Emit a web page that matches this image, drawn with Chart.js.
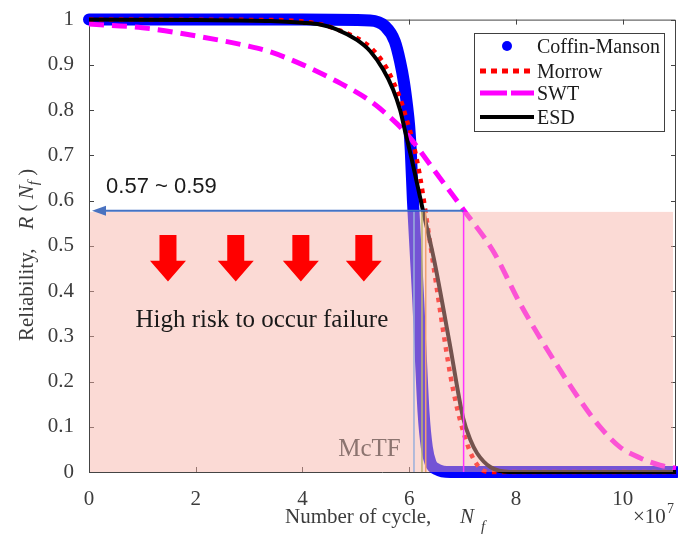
<!DOCTYPE html>
<html>
<head>
<meta charset="utf-8">
<script src="https://cdn.jsdelivr.net/npm/chart.js@4.4.0/dist/chart.umd.min.js"></script>
<style>
html, body { margin: 0; padding: 0; background: #fff; overflow: hidden; }
canvas { display: block; }
</style>
</head>
<body>
<canvas id="relChart" width="678" height="545"></canvas>
<script>
// x in units of 1e7 cycles, y = reliability
var cmX = [0, 2, 4, 5.27, 5.55, 5.73, 5.83, 5.9, 5.96, 6.0, 6.03, 6.07, 6.12, 6.17, 6.22, 6.27, 6.33, 6.4, 6.52, 6.77, 8, 11];
var cmY = [1, 1, 1, 0.998, 0.985, 0.952, 0.907, 0.863, 0.81, 0.765, 0.71, 0.6, 0.49, 0.38, 0.25, 0.13, 0.055, 0.02, 0.006, 0, 0, 0];

var morX = [0, 3.5, 4.33, 4.7, 4.89, 5.21, 5.4, 5.58, 5.7, 5.83, 5.95, 6.07, 6.2, 6.3, 6.4, 6.5, 6.62, 6.77, 6.9, 7.0, 7.14, 7.33, 7.5, 11];
var morY = [1, 0.999, 0.99, 0.976, 0.967, 0.945, 0.923, 0.892, 0.863, 0.826, 0.78, 0.73, 0.655, 0.58, 0.5, 0.42, 0.325, 0.215, 0.14, 0.095, 0.045, 0.008, 0, 0];

var swtX = [0, 1, 2, 3, 3.39, 4.01, 4.65, 5.27, 5.77, 6.02, 6.5, 7.01, 7.57, 8.08, 8.45, 8.83, 9.2, 9.58, 9.95, 10.33, 10.7, 11];
var swtY = [0.99, 0.982, 0.964, 0.941, 0.929, 0.9, 0.863, 0.82, 0.77, 0.738, 0.662, 0.581, 0.489, 0.372, 0.297, 0.225, 0.159, 0.099, 0.055, 0.031, 0.015, 0.008];

var esdX = [0, 2, 3.4, 4.0, 4.33, 4.65, 5.02, 5.27, 5.51, 5.7, 5.83, 5.92, 6.05, 6.26, 6.47, 6.75, 7.01, 7.15, 7.27, 7.52, 7.89, 11];
var esdY = [1, 0.999, 0.997, 0.993, 0.989, 0.978, 0.955, 0.93, 0.89, 0.845, 0.8, 0.755, 0.69, 0.577, 0.467, 0.29, 0.12, 0.07, 0.042, 0.011, 0, 0];

var xTicks = [0, 2, 4, 6, 8, 10];
var yTicks = [0, 0.1, 0.2, 0.3, 0.4, 0.5, 0.6, 0.7, 0.8, 0.9, 1];

// annotation values
var riskLevel = 0.575;
var riskEnd = 7.02;
var crossX = [6.09, 6.24, 6.31];
var arrowX = [1.48, 2.75, 3.97, 5.15];
var arrowTop = 0.524, arrowHead = 0.467, arrowTip = 0.421;

var serif = '"Liberation Serif", "Times New Roman", serif';
var grey = '#3c3c3c';

function pts(xs, ys) {
	return xs.map(function(v, i) { return { x: v, y: ys[i] }; });
}

function drawInTicks(ctx, a, x, y) {
	ctx.strokeStyle = '#444';
	ctx.lineWidth = 1;
	ctx.beginPath();
	ctx.rect(a.left + 0.5, a.top + 0.5, a.right - a.left - 1, a.bottom - a.top);
	for(var v of xTicks) {
		var px = Math.round(x.getPixelForValue(v)) + 0.5;
		ctx.moveTo(px, a.bottom); ctx.lineTo(px, a.bottom - 5);
		ctx.moveTo(px, a.top); ctx.lineTo(px, a.top + 5);
	}
	for(var w of yTicks) {
		var py = Math.round(y.getPixelForValue(w)) + 0.5;
		ctx.moveTo(a.left, py); ctx.lineTo(a.left + 5, py);
		ctx.moveTo(a.right, py); ctx.lineTo(a.right - 5, py);
	}
	ctx.stroke();
}

var frame = {
	id: 'frame',
	beforeDatasetsDraw: function(chart) {
		var ctx = chart.ctx;
		ctx.save();
		drawInTicks(ctx, chart.chartArea, chart.scales.x, chart.scales.y);
		ctx.restore();
	}
};

var annot = {
	id: 'annot',
	afterDatasetsDraw: function(chart) {
		var ctx = chart.ctx, a = chart.chartArea, x = chart.scales.x, y = chart.scales.y;
		var yt = y.getPixelForValue(riskLevel), yb = y.getPixelForValue(0);
		ctx.save();
		// risk zone
		ctx.fillStyle = 'rgba(246,176,165,0.47)';
		ctx.fillRect(a.left + 1, yt, a.right - a.left - 4, yb - yt);

		// crossing lines
		var cols = ['#9ab0dc', '#bdb56e', '#f0a070'];
		ctx.lineWidth = 1.5;
		crossX.forEach(function(v, i) {
			var px = x.getPixelForValue(v);
			ctx.strokeStyle = cols[i];
			ctx.beginPath(); ctx.moveTo(px, yt); ctx.lineTo(px, yb); ctx.stroke();
		});
		var pm = x.getPixelForValue(riskEnd);
		ctx.strokeStyle = '#ff33ff';
		ctx.beginPath(); ctx.moveTo(pm, yt); ctx.lineTo(pm, yb); ctx.stroke();

		// level arrow
		var x0 = x.getPixelForValue(0);
		ctx.strokeStyle = '#4472c4';
		ctx.lineWidth = 2;
		ctx.beginPath(); ctx.moveTo(pm, yt - 1); ctx.lineTo(x0 + 14, yt - 1); ctx.stroke();
		ctx.fillStyle = '#4a72c0';
		ctx.beginPath();
		ctx.moveTo(x0 + 3, yt - 1); ctx.lineTo(x0 + 17, yt - 6); ctx.lineTo(x0 + 17, yt + 4);
		ctx.closePath(); ctx.fill();

		// red arrows
		ctx.fillStyle = '#ff0000';
		var t = y.getPixelForValue(arrowTop), h = y.getPixelForValue(arrowHead), tip = y.getPixelForValue(arrowTip);
		arrowX.forEach(function(v) {
			var c = x.getPixelForValue(v);
			ctx.beginPath();
			ctx.moveTo(c - 8.5, t); ctx.lineTo(c + 8.5, t); ctx.lineTo(c + 8.5, h);
			ctx.lineTo(c + 18, h); ctx.lineTo(c, tip); ctx.lineTo(c - 18, h); ctx.lineTo(c - 8.5, h);
			ctx.closePath(); ctx.fill();
		});

		// texts
		ctx.fillStyle = '#1a1a1a';
		ctx.font = '22px "Liberation Sans", Arial, sans-serif';
		ctx.textBaseline = 'alphabetic';
		ctx.fillText('0.57 ~ 0.59', x.getPixelForValue(0.32), y.getPixelForValue(0.617));
		ctx.font = '25px ' + serif;
		ctx.textAlign = 'center';
		ctx.fillText('High risk to occur failure', x.getPixelForValue(3.24), y.getPixelForValue(0.321));
		ctx.textAlign = 'left';
		ctx.fillStyle = '#8c7470';
		ctx.fillText('McTF', x.getPixelForValue(4.67), y.getPixelForValue(0.035));
		ctx.restore();
	},
	afterDraw: function(chart) {
		var ctx = chart.ctx;
		ctx.save();
		ctx.fillStyle = grey;
		ctx.textBaseline = 'alphabetic';

		// x title
		ctx.font = '21px ' + serif;
		ctx.fillText('Number of cycle,', 285, 523);
		ctx.font = 'italic 21px ' + serif;
		ctx.fillText('N', 460, 523);
		ctx.font = 'italic 15px ' + serif;
		ctx.fillText('f', 481, 531);
		ctx.font = '21px ' + serif;
		ctx.fillText('\u00d710', 633, 523);
		ctx.font = '14px ' + serif;
		ctx.fillText('7', 667, 513);

		// y title
		ctx.translate(33, 341);
		ctx.rotate(-Math.PI / 2);
		ctx.font = '21px ' + serif;
		ctx.fillText('Reliability,', 0, 0);
		var p = ctx.measureText('Reliability,').width + 19;
		ctx.font = 'italic 21px ' + serif;
		ctx.fillText('R', p, 0);
		p += ctx.measureText('R').width;
		ctx.font = '21px ' + serif;
		ctx.fillText(' ( ', p, 0);
		p += ctx.measureText(' ( ').width;
		ctx.font = 'italic 21px ' + serif;
		ctx.fillText('N', p, 0);
		p += ctx.measureText('N').width;
		ctx.font = 'italic 15px ' + serif;
		ctx.fillText('f', p, 5);
		p += ctx.measureText('f').width;
		ctx.font = '21px ' + serif;
		ctx.fillText(' )', p, 0);
		ctx.setTransform(1, 0, 0, 1, 0, 0);

		// legend
		var lx = 474, ly = 33;
		ctx.fillStyle = '#fff';
		ctx.fillRect(lx, ly, 190, 98);
		ctx.strokeStyle = '#404040';
		ctx.lineWidth = 1;
		ctx.strokeRect(lx + 0.5, ly + 0.5, 190, 98);
		var rows = [46, 71, 93, 117];
		var names = ['Coffin-Manson', 'Morrow', 'SWT', 'ESD'];
		ctx.fillStyle = '#0000ff';
		ctx.beginPath(); ctx.arc(507, rows[0], 5, 0, Math.PI * 2); ctx.fill();
		ctx.lineCap = 'butt';
		ctx.strokeStyle = '#ff0000'; ctx.lineWidth = 5; ctx.setLineDash([6, 5]);
		ctx.beginPath(); ctx.moveTo(480, rows[1]); ctx.lineTo(534, rows[1]); ctx.stroke();
		ctx.strokeStyle = '#ff00ff'; ctx.setLineDash([27, 4]);
		ctx.beginPath(); ctx.moveTo(480, rows[2]); ctx.lineTo(534, rows[2]); ctx.stroke();
		ctx.strokeStyle = '#000'; ctx.lineWidth = 4; ctx.setLineDash([]);
		ctx.beginPath(); ctx.moveTo(480, rows[3]); ctx.lineTo(534, rows[3]); ctx.stroke();
		ctx.fillStyle = '#1a1a1a';
		ctx.font = '20px ' + serif;
		names.forEach(function(n, i) {
			ctx.fillText(n, 537, rows[i] + 7);
		});
		ctx.restore();
	}
};

var ctx = document.getElementById('relChart').getContext('2d');
var chart = new Chart(ctx, {
	type: 'line',
	data: {
		datasets: [{
			label: 'ESD',
			data: pts(esdX, esdY),
			borderColor: '#000000',
			borderWidth: 4,
			order: 1
		}, {
			label: 'SWT',
			data: pts(swtX, swtY),
			borderColor: '#ff00ff',
			borderWidth: 5,
			borderDash: [15, 8],
			order: 2
		}, {
			label: 'Morrow',
			data: pts(morX, morY),
			borderColor: '#ff0000',
			borderWidth: 4.5,
			borderDash: [4.5, 5.5],
			order: 3
		}, {
			label: 'Coffin-Manson',
			data: pts(cmX, cmY),
			borderColor: '#0000ff',
			borderWidth: 12,
			borderCapStyle: 'round',
			borderJoinStyle: 'round',
			order: 4
		}]
	},
	options: {
		responsive: false,
		animation: false,
		devicePixelRatio: 1,
		events: [],
		layout: { padding: { top: 18, right: 2, left: 0, bottom: 0 } },
		elements: {
			point: { radius: 0 },
			line: { cubicInterpolationMode: 'monotone', fill: false }
		},
		datasets: { line: { clip: false } },
		plugins: {
			legend: { display: false },
			tooltip: { enabled: false }
		},
		scales: {
			x: {
				type: 'linear',
				min: 0,
				max: 11,
				afterFit: function(s) { s.height = 73; },
				afterBuildTicks: function(s) { s.ticks = xTicks.map(function(v) { return { value: v }; }); },
				grid: { display: false },
				border: { display: false },
				ticks: { color: grey, font: { family: serif, size: 21 }, padding: 7, maxRotation: 0, autoSkip: false }
			},
			y: {
				type: 'linear',
				min: 0,
				max: 1,
				afterFit: function(s) { s.width = 89; },
				afterBuildTicks: function(s) { s.ticks = yTicks.map(function(v) { return { value: v }; }); },
				grid: { display: false },
				border: { display: false },
				ticks: {
					color: grey,
					font: { family: serif, size: 21 },
					padding: 7,
					autoSkip: false,
					callback: function(v) { return String(Math.round(v * 10) / 10); }
				}
			}
		}
	},
	plugins: [frame, annot]
});
</script>
</body>
</html>
